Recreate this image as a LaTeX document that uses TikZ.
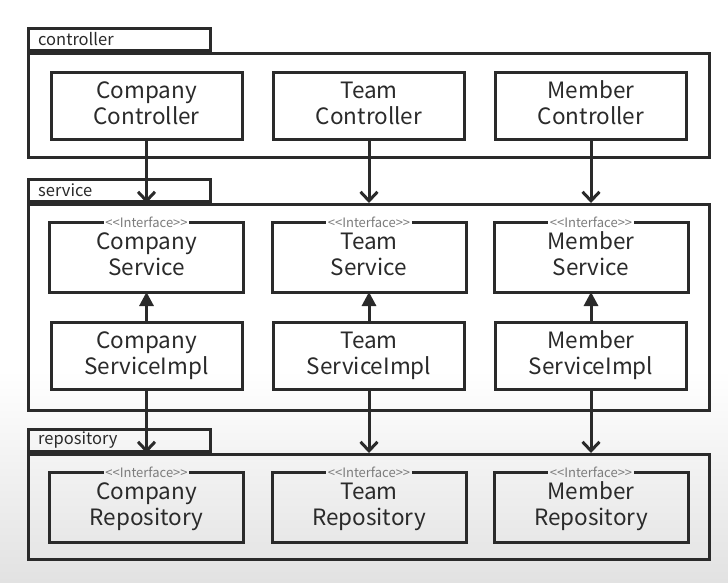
\documentclass[tikz,border=0pt]{standalone}
\usepackage{fontspec}
\setmainfont{Noto Sans CJK KR}
\usetikzlibrary{arrows.meta,positioning,calc}
\definecolor{tinta}{HTML}{2A2A2A}
\definecolor{gristexto}{HTML}{7C7C7C}
\definecolor{fondo}{HTML}{E2E2E2}
% caja con <<Interface>> sobre el borde superior
\newcommand{\interfaz}[1]{%
  \node[estereo] (#1-st) at (#1.north) {{<}{<}Interface{>}{>}};
  \draw[borde] (#1-st.east) -| (#1.south east) -| (#1.north west) -- (#1-st.west);}
\tikzset{
  borde/.style={draw=tinta,line width=3pt,line join=miter},
  paquete/.style={borde,minimum width=681pt,anchor=north west,inner sep=0pt},
  pestana/.style={borde,minimum width=182pt,minimum height=22pt,anchor=south west,inner sep=0pt},
  nombre/.style={font=\fontsize{16.5}{19}\selectfont,text=tinta,anchor=west,inner sep=0pt},
  clase/.style={borde,minimum width=191pt,minimum height=67pt,align=center,font=\fontsize{22.5}{26}\selectfont,text=tinta,inner sep=0pt,anchor=north,
    execute at begin node={\rule{0pt}{23.5pt}},execute at end node={\rule[-6pt]{0pt}{6pt}}},
  clasei/.style={clase,draw=none},
  estereo/.style={font=\fontsize{13}{15}\selectfont,text=gristexto,inner sep=1.5pt},
  usa/.style={-{Straight Barb[length=9pt,width=17pt]},line width=3pt,tinta},
  implementa/.style={-{Triangle[length=14pt,width=14pt]},line width=3pt,tinta},
}
\begin{document}
\begin{tikzpicture}[x=1pt,y=-1pt]
  \useasboundingbox (0,0) rectangle (728,582);
  \fill[white] (0,0) rectangle (728,582);
  \shade[top color=white,bottom color=fondo] (0,370) rectangle (728,582);
  % controller
  \node[paquete,minimum height=104pt] (ctrl) at (27,52) {};
  \node[pestana] (ctrlT) at (ctrl.north west) {};
  \node[nombre] at ($(ctrlT.west)+(11,0)$) {controller};
  \node[clase] (cc) at ($(ctrl.north west)+(119.5,19)$) {Company\\Controller};
  \node[clase] (tc) at ($(ctrl.north west)+(342,19)$) {Team\\Controller};
  \node[clase] (mc) at ($(ctrl.north west)+(564,19)$) {Member\\Controller};
  % service
  \node[paquete,minimum height=206pt] (srv) at (27,203) {};
  \node[pestana] (srvT) at (srv.north west) {};
  \node[nombre] at ($(srvT.west)+(11,0)$) {service};
  \node[clasei] (cs) at ($(srv.north west)+(119.5,19)$) {Company\\Service};
  \node[clasei] (ts) at ($(srv.north west)+(342,19)$) {Team\\Service};
  \node[clasei] (ms) at ($(srv.north west)+(564,19)$) {Member\\Service};
  \foreach \c in {cs,ts,ms} {\interfaz{\c}}
  \node[clase] (ci) at ($(srv.north west)+(119.5,118)$) {Company\\ServiceImpl};
  \node[clase] (ti) at ($(srv.north west)+(342,118)$) {Team\\ServiceImpl};
  \node[clase] (mi) at ($(srv.north west)+(564,118)$) {Member\\ServiceImpl};
  % repository
  \node[paquete,minimum height=105pt] (repo) at (27,453) {};
  \node[pestana] (repoT) at (repo.north west) {};
  \node[nombre] at ($(repoT.west)+(11,0)$) {repository};
  \node[clasei] (cr) at ($(repo.north west)+(119.5,19)$) {Company\\Repository};
  \node[clasei] (tr) at ($(repo.north west)+(342,19)$) {Team\\Repository};
  \node[clasei] (mr) at ($(repo.north west)+(564,19)$) {Member\\Repository};
  \foreach \c in {cr,tr,mr} {\interfaz{\c}}
  % flechas
  \foreach \c in {cc,tc,mc} \draw[usa] (\c.south) -- (\c.south |- srv.north);
  \foreach \i/\s in {ci/cs,ti/ts,mi/ms} \draw[implementa] (\i.north) -- (\s.south);
  \foreach \i in {ci,ti,mi} \draw[usa] (\i.south) -- (\i.south |- repo.north);
\end{tikzpicture}
\end{document}
